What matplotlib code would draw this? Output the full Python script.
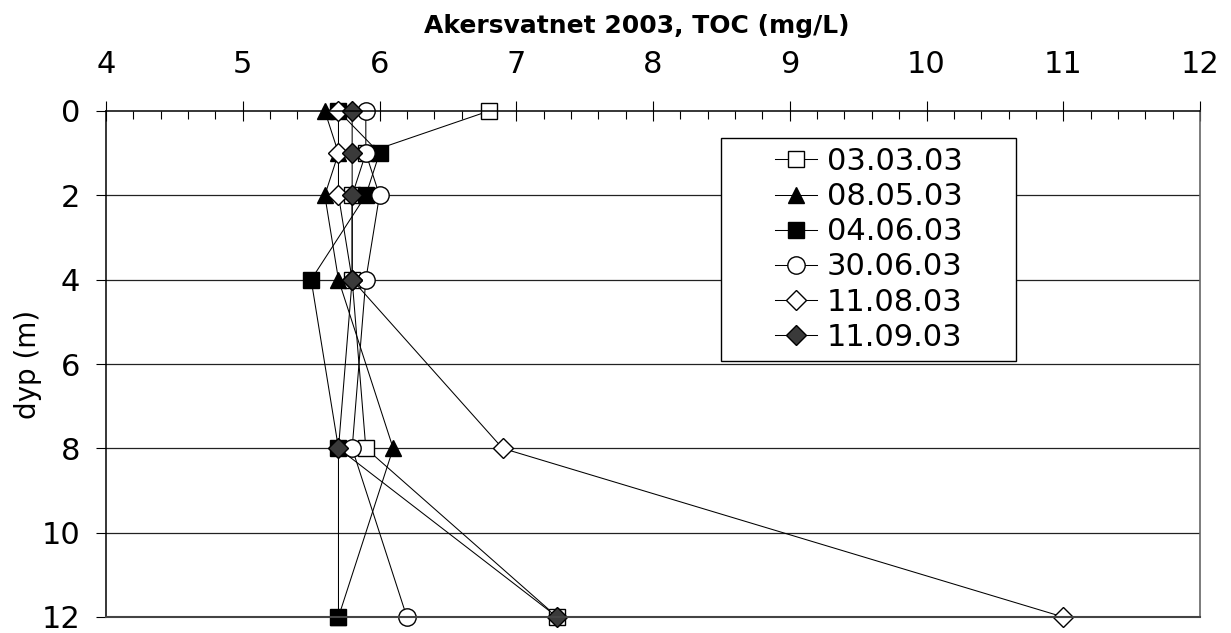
import matplotlib
matplotlib.use("Agg")
import matplotlib.pyplot as plt
import matplotlib.ticker as mtick
from matplotlib.patches import Rectangle

plt.rcParams["font.family"] = ["DejaVu Sans"]

# Depths (m) and TOC (mg/L) per sampling date
depths = [0, 1, 2, 4, 8, 12]
toc_030303 = [6.8, 5.9, 5.8, 5.8, 5.9, 7.3]
toc_080503 = [5.6, 5.7, 5.6, 5.7, 6.1, 5.7]
toc_040603 = [5.7, 6.0, 5.9, 5.5, 5.7, 5.7]
toc_300603 = [5.9, 5.9, 6.0, 5.9, 5.8, 6.2]
toc_110803 = [5.7, 5.7, 5.7, 5.8, 6.9, 11.0]
toc_110903 = [5.8, 5.8, 5.8, 5.8, 5.7, 7.3]

labels = ["03.03.03", "08.05.03", "04.06.03", "30.06.03", "11.08.03", "11.09.03"]
series = [toc_030303, toc_080503, toc_040603, toc_300603, toc_110803, toc_110903]
styles = [
  dict(marker="s", mfc="white", ms=11),
  dict(marker="^", mfc="black", ms=12),
  dict(marker="s", mfc="black", ms=11),
  dict(marker="o", mfc="white", ms=12.5),
  dict(marker="D", mfc="white", ms=10),
  dict(marker="D", mfc="#3a3a3a", ms=10),
]

fig = plt.figure(figsize=(12.31, 6.33), dpi=100)
ax = fig.add_axes([106 / 1231, 1 - 617 / 633, 1094 / 1231, 506 / 633])

for vals, lab, st in zip(series, labels, styles):
  ax.plot(vals, depths, color="black", lw=0.75, mec="black", mew=1,
          label=lab, clip_on=False, **st)

ax.set_xlim(4, 12)
ax.set_ylim(12, 0)

# x axis on top with in/out major ticks and inner minor ticks
ax.xaxis.set_ticks_position("top")
ax.xaxis.set_label_position("top")
ax.xaxis.set_major_locator(mtick.MultipleLocator(1))
ax.xaxis.set_minor_locator(mtick.MultipleLocator(0.2))
ax.tick_params(axis="x", which="major", direction="inout", length=13.7, width=0.8,
               labelsize=22, pad=16)
ax.tick_params(axis="x", which="minor", direction="in", length=5.8, width=0.8)
ax.yaxis.set_major_locator(mtick.MultipleLocator(2))
ax.tick_params(axis="y", which="major", direction="out", length=7.2, width=0.8,
               labelsize=22, pad=11.5)

for y in range(2, 12, 2):
  ax.axhline(y, color="#222222", lw=0.9, zorder=0)

ax.spines["top"].set_linewidth(1.1)
ax.spines["left"].set_linewidth(1.1)
ax.spines["right"].set_color("#666666")
ax.spines["right"].set_linewidth(1.2)
ax.spines["bottom"].set_color("#444444")
ax.spines["bottom"].set_linewidth(1.5)

ax.set_ylabel("dyp (m)", fontsize=20)
ax.yaxis.set_label_coords((42 - 106) / 1094, 0.5)
fig.text(637 / 1231, 1 - 33 / 633, "Akersvatnet 2003, TOC (mg/L)",
         fontsize=18, fontweight="bold", ha="center", va="baseline")

# Legend box
rx, ry, rw, rh = 0.562, 0.506, 0.270, 0.441
ax.add_patch(Rectangle((rx, ry), rw, rh, transform=ax.transAxes,
                       facecolor="white", edgecolor="black", lw=1, zorder=5))
leg_handles = []
for st, lab in zip(styles, labels):
  h, = ax.plot([], [], color="black", lw=0.75, mec="black", mew=1, label=lab, **st)
  leg_handles.append(h)
leg = ax.legend(handles=leg_handles, loc="center",
                bbox_to_anchor=(rx + rw / 2, ry + rh / 2),
                frameon=False, fontsize=22, labelspacing=0.2,
                handlelength=1.4, handletextpad=0.3, borderpad=0)
leg.set_zorder(6)

fig.savefig("out.png", dpi=100)
